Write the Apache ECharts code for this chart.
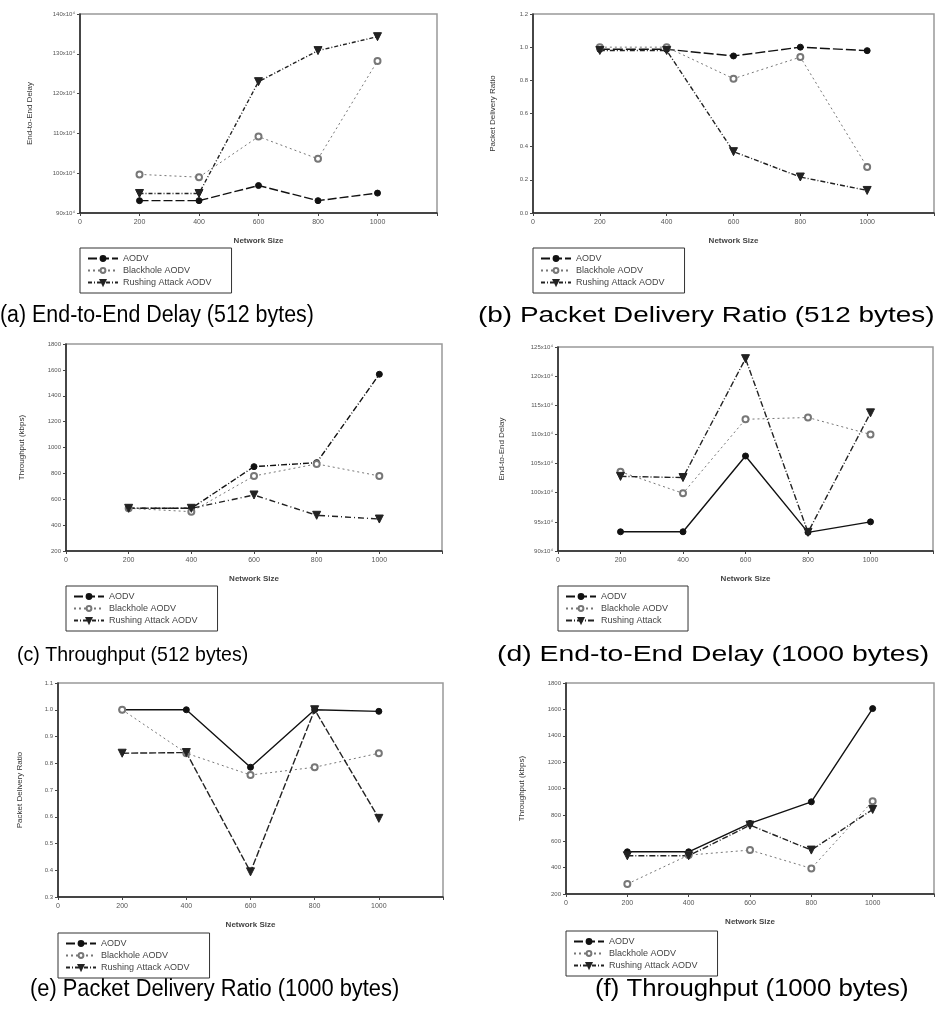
<!DOCTYPE html>
<html>
<head>
<meta charset="utf-8">
<script src="https://cdn.jsdelivr.net/npm/echarts@6/dist/echarts.min.js"></script>
<style>
  html, body { margin: 0; padding: 0; background: #fff; }
  #main { width: 937px; height: 1015px; }
</style>
</head>
<body>
<div id="main"></div>
<script>
var myChart = echarts.init(document.getElementById('main'));

// network sizes (x)
var sizes = [200, 400, 600, 800, 1000];
var xTicks = [0, 200, 400, 600, 800, 1000];

// (a) End-to-End Delay, 512 bytes  (x10^4)
var delay512Aodv = [93.1, 93.1, 96.9, 93.1, 95.0];
var delay512Black = [99.7, 99.0, 109.2, 103.6, 128.2];
var delay512Rush = [94.9, 94.9, 123.0, 130.8, 134.3];

// (b) Packet Delivery Ratio, 512 bytes
var pdr512Aodv = [0.987, 0.987, 0.947, 1.0, 0.979];
var pdr512Black = [1.0, 1.0, 0.81, 0.94, 0.277];
var pdr512Rush = [0.98, 0.98, 0.37, 0.217, 0.136];

// (c) Throughput, 512 bytes
var thr512Aodv = [530, 530, 852, 883, 1566];
var thr512Black = [530, 504, 780, 873, 780];
var thr512Rush = [530, 530, 633, 476, 447];

// (d) End-to-End Delay, 1000 bytes (x10^4)
var delay1000Aodv = [93.3, 93.3, 106.3, 93.2, 95.0];
var delay1000Black = [103.6, 99.9, 112.6, 112.9, 110.0];
var delay1000Rush = [102.8, 102.6, 123.0, 93.2, 113.7];

// (e) Packet Delivery Ratio, 1000 bytes
var pdr1000Aodv = [1.0, 1.0, 0.785, 1.0, 0.994];
var pdr1000Black = [1.0, 0.8375, 0.756, 0.785, 0.8375];
var pdr1000Rush = [0.8375, 0.84, 0.394, 1.0, 0.594];

// (f) Throughput, 1000 bytes
var thr1000Aodv = [520, 520, 735, 899, 1606];
var thr1000Black = [276, 495, 533, 394, 904];
var thr1000Rush = [490, 490, 722, 533, 841];

var captions = [
  '(a) End-to-End Delay (512 bytes)',
  '(b) Packet Delivery Ratio (512 bytes)',
  '(c) Throughput (512 bytes)',
  '(d) End-to-End Delay (1000 bytes)',
  '(e) Packet Delivery Ratio (1000 bytes)',
  '(f) Throughput (1000 bytes)'
];

function pairs(vals) {
  return sizes.map(function (s, i) { return [s, vals[i]]; });
}

var fontF = 'Liberation Sans, Arial, sans-serif';

// layout of each panel
var panels = [
  { grid: { left: 80, top: 14, width: 357, height: 199 }, yMin: 90, yMax: 140, yInt: 10, fmt: 'e4', yName: 'End-to-End Delay', nameGap: 46,
    names: ['AODV', 'Blackhole AODV', 'Rushing Attack AODV'], data: [delay512Aodv, delay512Black, delay512Rush],
    types: [[9, 3], [2, 3], [4, 2, 1, 2]], legend: { left: 80, top: 248 },
    cap: { x: 0, y: 316, size: 23, sx: 0.93 } },
  { grid: { left: 533, top: 14, width: 402, height: 199 }, yMin: 0, yMax: 1.2, yInt: 0.2, fmt: 'f1', yName: 'Packet Delivery Ratio', nameGap: 36,
    names: ['AODV', 'Blackhole AODV', 'Rushing Attack AODV'], data: [pdr512Aodv, pdr512Black, pdr512Rush],
    types: [[10, 3], [2, 3], [5, 2, 1, 2]], legend: { left: 533, top: 248 },
    cap: { x: 478, y: 316, size: 22, sx: 1.27 } },
  { grid: { left: 66, top: 344, width: 376, height: 207 }, yMin: 200, yMax: 1800, yInt: 200, fmt: 'i', yName: 'Throughput (kbps)', nameGap: 40,
    names: ['AODV', 'Blackhole AODV', 'Rushing Attack AODV'], data: [thr512Aodv, thr512Black, thr512Rush],
    types: [[6, 2, 1, 2], [2, 3], [6, 3, 1, 3]], legend: { left: 66, top: 586 },
    cap: { x: 17, y: 655, size: 21, sx: 0.93 } },
  { grid: { left: 558, top: 347, width: 375, height: 204 }, yMin: 90, yMax: 125, yInt: 5, fmt: 'e4', yName: 'End-to-End Delay', nameGap: 52,
    names: ['AODV', 'Blackhole AODV', 'Rushing Attack'], data: [delay1000Aodv, delay1000Black, delay1000Rush],
    types: ['solid', [2, 3], [6, 2, 1, 2]], legend: { left: 558, top: 586 },
    cap: { x: 497, y: 655, size: 22, sx: 1.29 } },
  { grid: { left: 58, top: 683, width: 385, height: 214 }, yMin: 0.3, yMax: 1.1, yInt: 0.1, fmt: 'f1', yName: 'Packet Delivery Ratio', nameGap: 34,
    names: ['AODV', 'Blackhole AODV', 'Rushing Attack AODV'], data: [pdr1000Aodv, pdr1000Black, pdr1000Rush],
    types: ['solid', [2, 3], [7, 2]], legend: { left: 58, top: 933 },
    cap: { x: 30, y: 990, size: 23, sx: 0.95 } },
  { grid: { left: 566, top: 683, width: 374, height: 211 }, yMin: 200, yMax: 1800, yInt: 200, fmt: 'i', yName: 'Throughput (kbps)', nameGap: 40,
    names: ['AODV', 'Blackhole AODV', 'Rushing Attack AODV'], data: [thr1000Aodv, thr1000Black, thr1000Rush],
    types: ['solid', [2, 3], [6, 2, 1, 2]], legend: { left: 566, top: 931 },
    cap: { x: 595, y: 990, size: 23, sx: 1.12 } }
];

var symbols = ['circle', 'emptyCircle', 'triangle'];
var colors = ['#111', '#777', '#222'];

var option = {
  animation: false,
  backgroundColor: '#fff',
  graphic: [],
  grid: [],
  xAxis: [],
  yAxis: [],
  legend: [],
  series: []
};

panels.forEach(function (p, k) {
  // sub-figure caption
  option.graphic.push({
    type: 'text',
    x: p.cap.x,
    y: p.cap.y,
    scaleX: p.cap.sx,
    originX: 0,
    originY: 0,
    style: {
      text: captions[k],
      font: 'normal ' + p.cap.size + 'px ' + fontF,
      fill: '#000',
      align: 'left',
      verticalAlign: 'middle'
    }
  });
  option.grid.push(Object.assign({ show: true, borderColor: '#999', borderWidth: 1.5 }, p.grid));
  option.xAxis.push({
    gridIndex: k,
    type: 'value',
    min: 0, max: 1200, interval: 200,
    name: 'Network Size',
    nameLocation: 'middle',
    nameGap: 24,
    nameTextStyle: { fontFamily: fontF, fontSize: 8, fontWeight: 'bold', color: '#444' },
    axisLine: { lineStyle: { color: '#222', width: 1.5 } },
    axisTick: { show: true, inside: false, length: 3, lineStyle: { color: '#444' } },
    axisLabel: {
      fontFamily: fontF, fontSize: 7, color: '#555', margin: 6,
      formatter: function (v) { return xTicks.indexOf(v) >= 0 ? String(v) : ''; }
    },
    splitLine: { show: false }
  });
  option.yAxis.push({
    gridIndex: k,
    type: 'value',
    min: p.yMin, max: p.yMax, interval: p.yInt,
    name: p.yName,
    nameLocation: 'middle',
    nameGap: p.nameGap,
    nameTextStyle: { fontFamily: fontF, fontSize: 8, color: '#333' },
    axisLine: { show: true, lineStyle: { color: '#222', width: 1.5 } },
    axisTick: { show: true, inside: false, length: 3, lineStyle: { color: '#444' } },
    axisLabel: {
      fontFamily: fontF, fontSize: 6, color: '#555', margin: 5,
      formatter: function (v) {
        if (p.fmt === 'e4') return Math.round(v) + 'x10\u2074';
        if (p.fmt === 'f1') return v.toFixed(1);
        return String(Math.round(v));
      }
    },
    splitLine: { show: false }
  });
  option.legend.push({
    left: p.legend.left,
    top: p.legend.top,
    orient: 'vertical',
    data: p.names,
    borderColor: '#333',
    borderWidth: 1,
    borderRadius: 0,
    padding: [6, 20, 6, 7],
    itemGap: 3,
    itemWidth: 30,
    itemHeight: 6,
    selectedMode: false,
    textStyle: { fontFamily: fontF, fontSize: 9, color: '#444' }
  });
  p.names.forEach(function (nm, j) {
    option.series.push({
      name: nm,
      type: 'line',
      xAxisIndex: k,
      yAxisIndex: k,
      data: pairs(p.data[j]),
      symbol: symbols[j],
      symbolRotate: j === 2 ? 180 : 0,
      symbolSize: j === 2 ? 8 : 6,
      itemStyle: { color: colors[j], borderColor: colors[j], borderWidth: 1 },
      lineStyle: { color: colors[j], width: j === 1 ? 1 : 1.4, type: p.types[j] }
    });
  });
});

myChart.setOption(option);
</script>
</body>
</html>
